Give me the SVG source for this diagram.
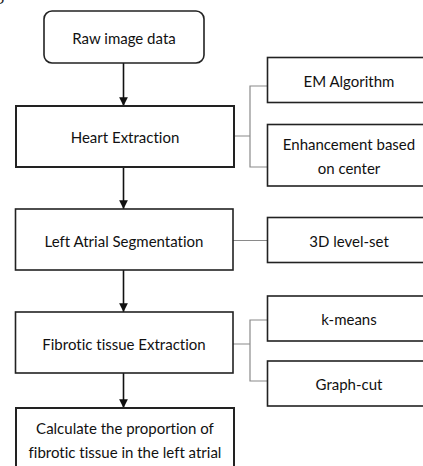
<svg xmlns="http://www.w3.org/2000/svg" width="423" height="466" viewBox="0 0 423 466">
  <style>
    .box { fill: #ffffff; stroke: #222222; stroke-width: 1.6; }
    .box.heavy { stroke-width: 2; }
    .lbl { font-family: Lato, "Liberation Sans", sans-serif; font-size: 15px; fill: #111111; text-anchor: middle; dominant-baseline: central; font-variant-ligatures: none; }
    .flow { stroke: #111111; stroke-width: 1.6; fill: none; marker-end: url(#arrow); }
    .branch { stroke: #8a8a8a; stroke-width: 1.2; fill: none; }
  </style>
  <defs>
    <marker id="arrow" viewBox="0 0 10 10" refX="10" refY="5" markerWidth="5.5" markerHeight="5.5" markerUnits="strokeWidth" orient="auto">
      <path d="M0,0 L10,5 L0,10 Z" fill="#111111"/>
    </marker>
  </defs>

  <rect width="423" height="466" fill="#ffffff"/>

  <!-- caption fragment at the top edge -->
  <text x="-6" y="-1" font-family="Liberation Serif, serif" font-size="20" fill="#222222">g</text>

  <!-- connectors -->
  <g id="connectors">
    <line class="flow" x1="123.5" y1="63" x2="123.5" y2="106"/>
    <line class="flow" x1="123.5" y1="167" x2="123.5" y2="209"/>
    <line class="flow" x1="123.5" y1="270" x2="123.5" y2="312"/>
    <line class="flow" x1="123.5" y1="373" x2="123.5" y2="408"/>

    <path class="branch" d="M234,136 H250 M267,86 H250 V167 H267"/>
    <path class="branch" d="M233,240.5 H267"/>
    <path class="branch" d="M233,344 H250 M267,320 H250 V381 H267"/>
  </g>

  <!-- main flow -->
  <g id="raw-image-data">
    <rect class="box" x="44" y="11" width="160" height="52" rx="8" ry="8"/>
    <text class="lbl" x="124" y="38">Raw image data</text>
  </g>
  <g id="heart-extraction">
    <rect class="box heavy" x="16" y="106" width="218" height="61"/>
    <text class="lbl" x="125" y="137">Heart Extraction</text>
  </g>
  <g id="left-atrial-segmentation">
    <rect class="box" x="15.5" y="209" width="217.5" height="61"/>
    <text class="lbl" x="124" y="240.5">Left Atrial Segmentation</text>
  </g>
  <g id="fibrotic-tissue-extraction">
    <rect class="box" x="15.5" y="312" width="217.5" height="61"/>
    <text class="lbl" x="124" y="343.5">Fibrotic tissue Extraction</text>
  </g>
  <g id="calculate-proportion">
    <rect class="box heavy" x="16" y="408" width="218" height="70"/>
    <text class="lbl" x="125" y="427.5">Calculate the proportion of</text>
    <text class="lbl" x="125" y="451.5">fibrotic tissue in the left atrial</text>
  </g>

  <!-- methods -->
  <g id="em-algorithm">
    <rect class="box" x="267.5" y="57.5" width="165" height="45"/>
    <text class="lbl" x="349" y="80.5">EM Algorithm</text>
  </g>
  <g id="enhancement-center">
    <rect class="box" x="267.5" y="124.5" width="165" height="61.5"/>
    <text class="lbl" x="349" y="144">Enhancement based</text>
    <text class="lbl" x="349" y="168">on center</text>
  </g>
  <g id="level-set-3d">
    <rect class="box" x="267.5" y="217.5" width="165" height="45"/>
    <text class="lbl" x="349" y="240.5">3D level-set</text>
  </g>
  <g id="k-means">
    <rect class="box" x="267.5" y="296" width="165" height="45"/>
    <text class="lbl" x="349" y="319">k-means</text>
  </g>
  <g id="graph-cut">
    <rect class="box" x="267.5" y="361" width="165" height="45"/>
    <text class="lbl" x="349" y="383.5">Graph-cut</text>
  </g>
</svg>
